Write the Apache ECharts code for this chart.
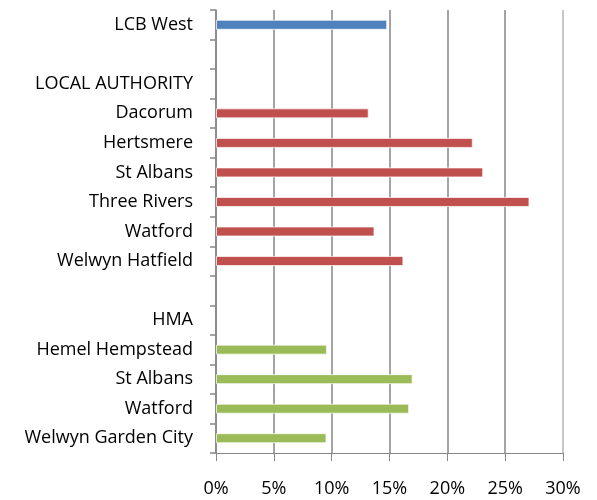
<!DOCTYPE html>
<html>
<head>
<meta charset="utf-8">
<script src="https://cdn.jsdelivr.net/npm/echarts@6/dist/echarts.min.js"></script>
<style>
  html, body { margin: 0; padding: 0; background: #fff; }
  #chart { width: 597px; height: 500px; }
</style>
</head>
<body>
<div id="chart"></div>
<script>
// Row labels, top to bottom (blank rows separate the groups)
const categories = [
  'LCB West', '', 'LOCAL AUTHORITY', 'Dacorum', 'Hertsmere', 'St Albans',
  'Three Rivers', 'Watford', 'Welwyn Hatfield', '', 'HMA',
  'Hemel Hempstead', 'St Albans', 'Watford', 'Welwyn Garden City'
];
// Percentages per row for each group (null = no bar in that row)
const lcbValues = [14.8, null, null, null, null, null, null, null, null, null, null, null, null, null, null];
const authorityValues = [null, null, null, 13.2, 22.2, 23.1, 27.1, 13.7, 16.2, null, null, null, null, null, null];
const hmaValues = [null, null, null, null, null, null, null, null, null, null, null, 9.6, 17.0, 16.7, 9.55];
const xTicks = [0, 5, 10, 15, 20, 25, 30];

const FONT = '"Open Sans"';
const chart = echarts.init(document.getElementById('chart'), null, { renderer: 'canvas' });

const barStyle = (color) => ({
  type: 'bar',
  barWidth: 10,
  barGap: '-100%',
  itemStyle: { color: color, borderColor: 'rgba(255,255,255,0.7)', borderWidth: 1 },
  silent: true
});

chart.setOption({
  animation: false,
  backgroundColor: '#ffffff',
  grid: { left: 216, right: 34, top: 10, bottom: 47, containLabel: false },
  xAxis: {
    type: 'value',
    min: xTicks[0],
    max: xTicks[xTicks.length - 1],
    interval: 5,
    axisLine: { show: true, lineStyle: { color: '#868686', width: 1 } },
    axisTick: { show: true, length: 8, lineStyle: { color: '#868686' } },
    axisLabel: {
      margin: 27,
      color: '#000',
      fontFamily: FONT,
      fontSize: 18,
      formatter: '{value}%'
    },
    splitLine: {
      show: true,
      lineStyle: {
        color: ['#868686', '#868686', '#868686', '#868686', '#868686', '#868686', '#b4b4b4'],
        width: 1.5
      }
    }
  },
  yAxis: {
    type: 'category',
    inverse: true,
    data: categories,
    axisLine: { show: true, lineStyle: { color: '#868686', width: 1.5 } },
    axisTick: { show: true, length: 6, lineStyle: { color: '#868686', width: 1.5 } },
    axisLabel: {
      margin: 23,
      color: '#000',
      fontFamily: FONT,
      fontSize: 18,
      interval: 0
    }
  },
  series: [
    Object.assign({ name: 'LCB West', data: lcbValues }, barStyle('#4F81BD')),
    Object.assign({ name: 'Local authority', data: authorityValues }, barStyle('#C0504D')),
    Object.assign({ name: 'HMA', data: hmaValues }, barStyle('#9BBB59'))
  ]
});
</script>
</body>
</html>
